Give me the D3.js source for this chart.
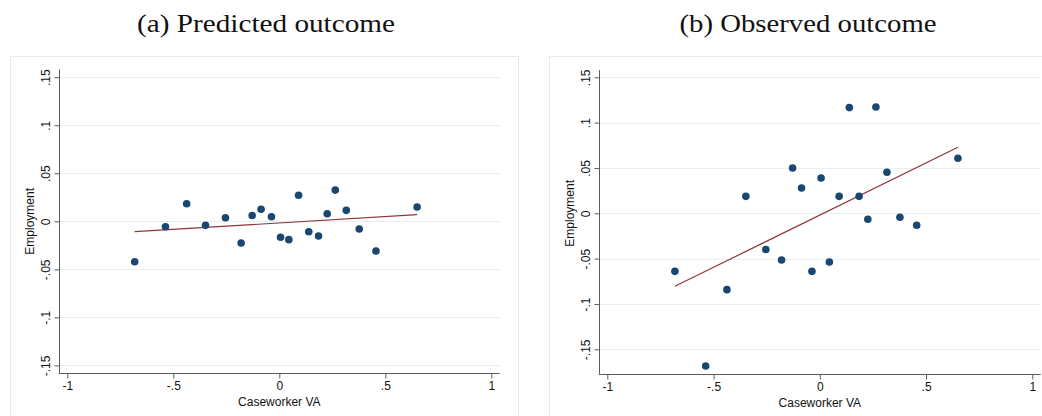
<!DOCTYPE html>
<html>
<head>
<meta charset="utf-8">
<script src="https://cdn.jsdelivr.net/npm/d3@7"></script>
<style>
  body { margin: 0; background: #fff; }
  svg { display: block; }
</style>
</head>
<body>
<svg id="chart"></svg>
<script>
// bin means of caseworker VA (shared by both panels)
const binX = [-0.682, -0.537, -0.437, -0.348, -0.254, -0.180, -0.128, -0.086, -0.037, 0.006,
              0.045, 0.091, 0.139, 0.185, 0.226, 0.264, 0.316, 0.377, 0.456, 0.650];
// (a) predicted employment
const predY = [-0.0421, -0.0056, 0.0183, -0.0042, 0.0037, -0.0226, 0.0060, 0.0125, 0.0048, -0.0166,
               -0.0191, 0.0271, -0.0108, -0.0153, 0.0079, 0.0325, 0.0114, -0.0080, -0.0309, 0.0149];
// (b) observed employment
const obsY = [-0.0640, -0.1684, -0.0842, 0.0187, -0.0400, -0.0515, 0.0500, 0.0279, -0.0640, 0.0389,
              -0.0537, 0.0187, 0.1166, 0.0187, -0.0066, 0.1172, 0.0452, -0.0044, -0.0132, 0.0607];
// fitted lines: [x, y] at both ends
const predFit = [[-0.682, -0.0108], [0.650, 0.0069]];
const obsFit = [[-0.682, -0.0805], [0.650, 0.0728]];

const xTicks = [-1, -0.5, 0, 0.5, 1];
const yTicks = [-0.15, -0.1, -0.05, 0, 0.05, 0.1, 0.15];
const titles = ['(a) Predicted outcome', '(b) Observed outcome'];

const width = 1042, height = 416;
const svg = d3.select('#chart').attr('width', width).attr('height', height);

const fmt = v => {
    if (v === 0) return '0';
    let s = String(+v.toFixed(2));
    return s.replace('0.', '.');
};

const panels = [
    { title: titles[0], ys: predY, fit: predFit, frame: [10, 56, 508, 370],
      xr: [67.3, 491.3], yr: [365.4, 77.2], yMin: -0.158, yMax: 0.158, titleX: 266, titleW: 258 },
    { title: titles[1], ys: obsY, fit: obsFit, frame: [549, 56, 500, 370],
      xr: [607.3, 1032.3], yr: [349.3, 77.3], yMin: -0.177, yMax: 0.158, titleX: 808, titleW: 257 }
];

const navy = '#1a476f', maroon = '#90353b', grid = '#e8eff0', axisCol = '#5c5c5c';

panels.forEach(p => {
    const x = d3.scaleLinear().domain([-1, 1]).range(p.xr);
    const y = d3.scaleLinear().domain([-0.15, 0.15]).range(p.yr);
    const x0 = x(-1.04), x1 = x(1.04);
    const yTop = y(p.yMax), yBot = y(p.yMin);

    // title
    svg.append('text')
        .attr('x', p.titleX).attr('y', 32)
        .attr('text-anchor', 'middle')
        .attr('textLength', p.titleW)
        .attr('lengthAdjust', 'spacingAndGlyphs')
        .style('font-family', '"Liberation Serif", "DejaVu Serif", serif')
        .style('font-size', '26px')
        .attr('fill', '#111')
        .text(p.title);

    // faint outer frame
    svg.append('rect')
        .attr('x', p.frame[0] + 0.5).attr('y', p.frame[1] + 0.5)
        .attr('width', p.frame[2]).attr('height', p.frame[3])
        .attr('fill', 'none').attr('stroke', '#e6eded').attr('stroke-width', 1);

    const g = svg.append('g');

    // horizontal gridlines
    g.selectAll('.grid')
        .data(yTicks)
        .enter()
        .append('line')
        .attr('x1', x0).attr('x2', x1)
        .attr('y1', d => Math.round(y(d)) + 0.5).attr('y2', d => Math.round(y(d)) + 0.5)
        .attr('stroke', grid).attr('stroke-width', 1);

    // y axis
    const yAxis = g.append('g')
        .attr('transform', `translate(${Math.round(x0) + 0.5},0)`)
        .call(d3.axisLeft(y).tickValues(yTicks).tickFormat(fmt).tickSize(5).tickPadding(4));
    yAxis.select('.domain').attr('d', `M0,${yTop}V${yBot}`).attr('stroke', axisCol);
    yAxis.selectAll('.tick line').attr('stroke', axisCol);
    yAxis.selectAll('.tick text')
        .attr('transform', 'rotate(-90)')
        .attr('x', 0).attr('y', -10).attr('dy', 0)
        .attr('text-anchor', 'middle')
        .style('font-family', '"Liberation Sans", Arial, sans-serif')
        .style('font-size', '12px').attr('fill', '#111');

    // x axis
    const xAxis = g.append('g')
        .attr('transform', `translate(0,${Math.round(yBot) + 0.5})`)
        .call(d3.axisBottom(x).tickValues(xTicks).tickFormat(fmt).tickSize(5).tickPadding(3));
    xAxis.select('.domain').attr('d', `M${x0},0H${x1}`).attr('stroke', axisCol);
    xAxis.selectAll('.tick line').attr('stroke', axisCol);
    xAxis.selectAll('.tick text')
        .style('font-family', '"Liberation Sans", Arial, sans-serif')
        .style('font-size', '12px').attr('fill', '#111');

    // axis titles
    g.append('text')
        .attr('x', x(0)).attr('y', yBot + 33)
        .attr('text-anchor', 'middle')
        .style('font-family', '"Liberation Sans", Arial, sans-serif')
        .style('font-size', '12px').attr('fill', '#111')
        .text('Caseworker VA');
    g.append('text')
        .attr('transform', `translate(${x0 - 25},${y(0)}) rotate(-90)`)
        .attr('text-anchor', 'middle')
        .style('font-family', '"Liberation Sans", Arial, sans-serif')
        .style('font-size', '12px').attr('fill', '#111')
        .text('Employment');

    // fitted line
    g.append('path')
        .datum(p.fit)
        .attr('d', d3.line().x(d => x(d[0])).y(d => y(d[1])))
        .attr('fill', 'none').attr('stroke', maroon).attr('stroke-width', 1.2);

    // bin scatter
    g.selectAll('.dot')
        .data(binX.map((v, i) => [v, p.ys[i]]))
        .enter()
        .append('circle')
        .attr('cx', d => x(d[0])).attr('cy', d => y(d[1]))
        .attr('r', 3.8)
        .attr('fill', navy);
});
</script>
</body>
</html>
